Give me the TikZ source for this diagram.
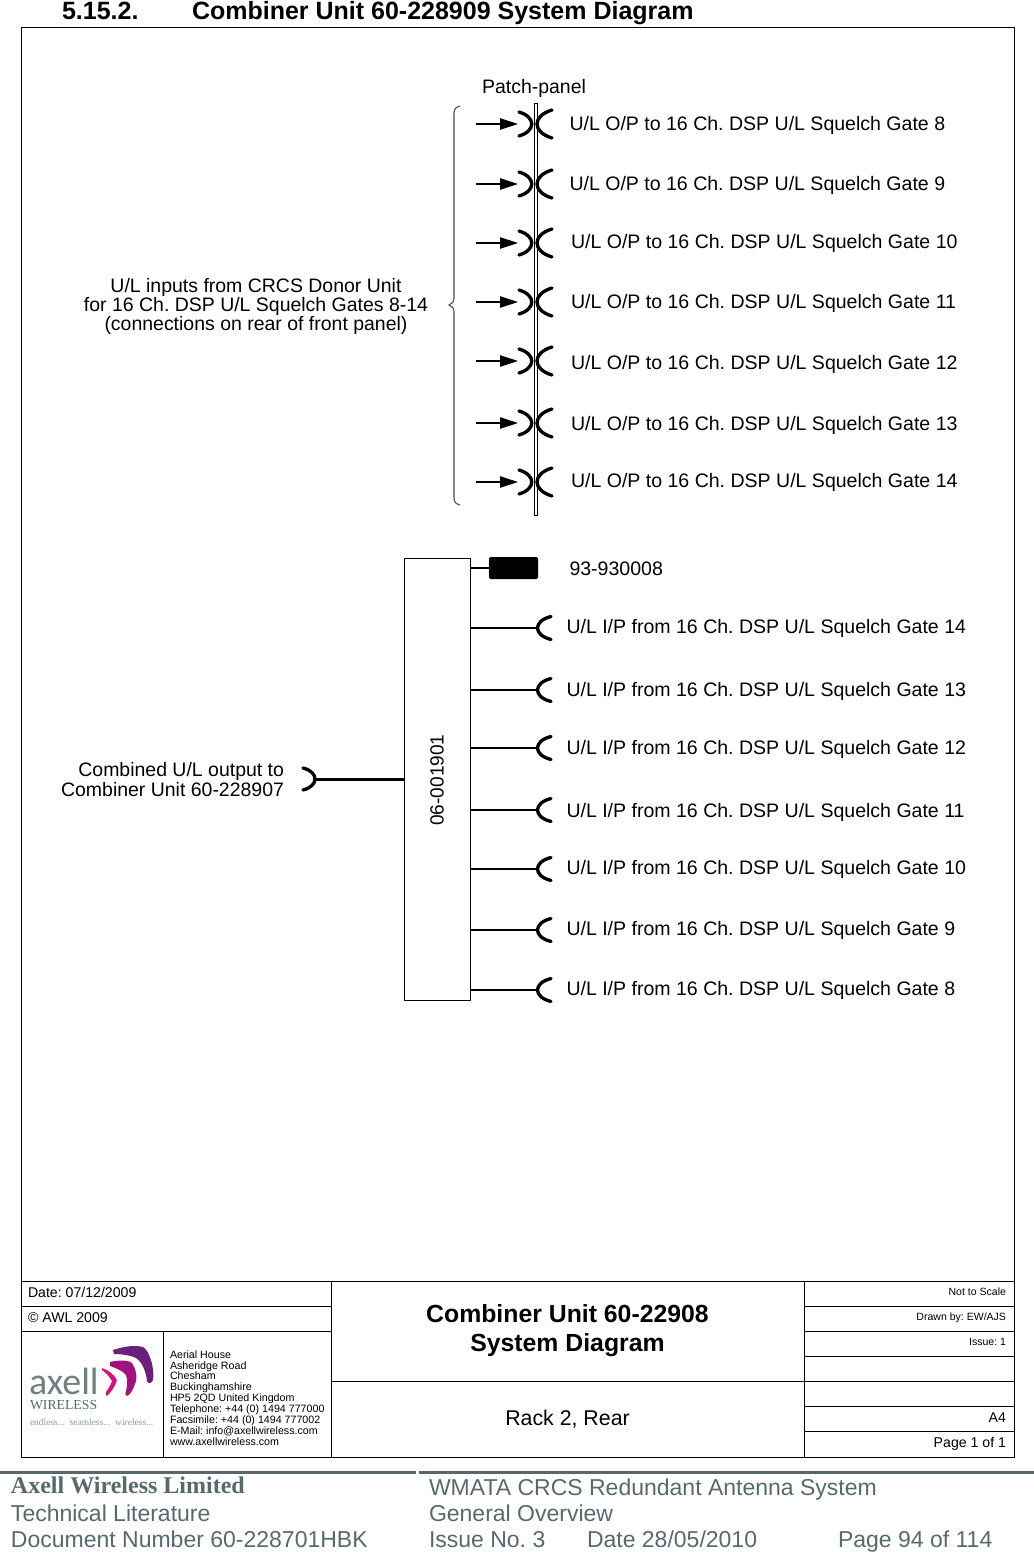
\documentclass[tikz,border=0pt]{standalone}
\usepackage{fontspec}
\setmainfont{Liberation Sans}
\newfontfamily\serifaxell{Liberation Serif}
\newfontfamily\logofont{Carlito}
\usetikzlibrary{arrows.meta, positioning, calc}
\definecolor{footgray}{HTML}{566A6B}
\definecolor{logoplum}{HTML}{6A1F7C}
\definecolor{logomag}{HTML}{A0127F}
\definecolor{logopink}{HTML}{D4127F}
\frenchspacing

\begin{document}
\begin{tikzpicture}[
    x=0.75pt, y=-0.75pt,
    every node/.style={inner sep=0pt, outer sep=0pt},
    label/.style={font=\fontsize{14.65}{15}\selectfont, anchor=west, yshift=-1.5pt},
    small/.style={font=\fontsize{10.6}{10.6}\selectfont},
    tiny/.style={font=\fontsize{7.9}{7.9}\selectfont},
    frameline/.style={draw, line width=0.65pt},
    wire/.style={line width=1.5pt},
    jack/.style={line width=2.5pt, line cap=round},
    footer/.style={font=\fontsize{17.25}{18}\selectfont, text=footgray, anchor=base west}
]
\useasboundingbox (0,0) rectangle (1034,1552);

%% Heading
\node[font=\bfseries\fontsize{18.75}{19}\selectfont, anchor=base west] (secno) at (62,20) {5.15.2.};
\node[font=\bfseries\fontsize{18.75}{19}\selectfont, anchor=base west] (sectitle) at (192,20) {Combiner Unit 60-228909 System Diagram};

%% Outer frame
\draw[frameline] (21,27) rectangle (1014,1457);

%% Patch panel
\draw[line width=0.7pt] (534,103) rectangle (537,515);
\node[font=\fontsize{14.6}{15}\selectfont, yshift=-1.5pt] (patch) at (534,86) {Patch-panel};

\foreach \y/\ty/\tx/\gate in {124/123/569.5/8, 184/183/569.5/9, 243/241/571/10, 302/301/571/11, 361/362/571/12, 423/423/571/13, 482/480/571/14} {
    \coordinate (in\gate) at (476,\y);
    \coordinate (plug\gate) at (518,\y);
    \draw[line width=0.9pt, -{Triangle[length=13.5pt, width=8.5pt]}] (in\gate) -- (plug\gate);
    \draw[jack] (519,\y-12) .. controls (536,\y-7) and (536,\y+7) .. (519,\y+12);
    \draw[jack] (552,\y-14) .. controls (532,\y-8) and (532,\y+8) .. (552,\y+14);
    \node[label] (out\gate) at (\tx,\ty) {U/L O/P to 16 Ch. DSP U/L Squelch Gate \gate};
}

%% Brace and inputs text
\draw[line width=0.8pt, black!70] (460,106) .. controls (456,107) and (454,109) .. (454,113) -- (454,298)
    .. controls (454,302) and (452,304) .. (449,305) .. controls (452,306) and (454,308) .. (454,312)
    -- (454,498) .. controls (454,502) and (456,504) .. (460,505);
\node[font=\fontsize{14.6}{14.3pt}\selectfont, align=center, yshift=-1.8pt] (inputs) at (256,304) {U/L inputs from CRCS Donor Unit\\for 16 Ch. DSP U/L Squelch Gates 8-14\\(connections on rear of front panel)};

%% Combiner box
\node[draw, line width=0.65pt, minimum width=49.5pt, minimum height=331.5pt] (comb) at (437,779) {};
\node[font=\fontsize{14.3}{15}\selectfont, rotate=90] (combid) at (437,780) {06-001901};

%% Load
\node[fill=black, minimum width=36.75pt, minimum height=16.5pt, rounded corners=1pt] (load) at (513.5,568) {};
\draw[wire] (comb.east |- load) -- (load);
\node[label] (loadid) at (569.5,567) {93-930008};

%% Inputs
\foreach \y/\ty/\tx/\gate in {628/626/566.5/14, 690/689/566.5/13, 748/747/566.5/12, 810/810/566.5/11, 869/867/566.5/10, 930/928/566.5/9, 990/988/566.5/8} {
    \coordinate (ip\gate) at (538,\y);
    \draw[wire] (comb.east |- ip\gate) -- (ip\gate);
    \draw[jack] (551,\y-11.5) .. controls (533,\y-7) and (533,\y+7) .. (551,\y+11.5);
    \node[label] (from\gate) at (\tx,\ty) {U/L I/P from 16 Ch. DSP U/L Squelch Gate \gate};
}

%% Combined output
\coordinate (outjack) at (315,779);
\draw[line width=2.25pt] (outjack) -- (comb.west |- outjack);
\draw[jack] (303,768) .. controls (319,772) and (319,786) .. (303,790);
\node[font=\fontsize{14.6}{14.3pt}\selectfont, align=right, anchor=east] (combout) at (284,779.5) {Combined U/L output to\\Combiner Unit 60-228907};

%% Title block
\draw[frameline] (21,1281) -- (1014,1281);
\draw[frameline] (331,1281) -- (331,1457);
\draw[frameline] (804,1281) -- (804,1457);
\draw[frameline] (21,1306) -- (331,1306);
\draw[frameline] (21,1331) -- (331,1331);
\draw[frameline] (163,1331) -- (163,1457);
\draw[frameline] (331,1381) -- (804,1381);
\foreach \y in {1306,1331,1356,1381,1406,1431}
    \draw[frameline] (804,\y) -- (1014,\y);

\node[small, anchor=base west] (date) at (28,1297) {Date: 07/12/2009};
\node[small, anchor=base west] (copy) at (28,1322) {© AWL 2009};
\node[font=\bfseries\fontsize{18.6}{21.5pt}\selectfont, align=center] (title) at (567.5,1330.5) {Combiner Unit 60-22908\\System Diagram};
\node[font=\fontsize{16}{16}\selectfont] (rack) at (567.5,1419) {Rack 2, Rear};
\node[tiny, anchor=base east] (scale) at (1006,1295.5) {Not to Scale};
\node[tiny, anchor=base east] (drawn) at (1006,1320.5) {Drawn by: EW/AJS};
\node[tiny, anchor=base east] (issue) at (1006,1345.5) {Issue: 1};
\node[small, anchor=base east] (sheet) at (1006,1422) {A4};
\node[small, anchor=base east] (page) at (1006,1447) {Page 1 of 1};
\node[font=\fontsize{8}{8.15pt}\selectfont, align=left, anchor=north west] (addr) at (170,1350.5) {Aerial House\\Asheridge Road\\Chesham\\Buckinghamshire\\HP5 2QD United Kingdom\\Telephone: +44 (0) 1494 777000\\Facsimile: +44 (0) 1494 777002\\E-Mail: info@axellwireless.com\\www.axellwireless.com};

%% Logo
\fill[logoplum] (113,1350) .. controls (125,1346) and (135,1345) .. (143,1347) .. controls (149,1350) and (155,1368) .. (153,1380)
    .. controls (151,1384) and (148,1384) .. (147,1381) .. controls (146,1370) and (141,1361) .. (136,1358) .. controls (130,1355) and (120,1354) .. (114,1354) -- cycle;
\fill[logomag] (110,1362) .. controls (118,1360) and (126,1360) .. (131,1362) .. controls (136,1368) and (138,1378) .. (135,1384)
    .. controls (133,1390) and (130,1395) .. (127,1396) .. controls (125,1396) and (125,1393) .. (126,1391) .. controls (128,1382) and (128,1375) .. (123,1372) .. controls (118,1369) and (113,1367) .. (110,1366) -- cycle;
\fill[logopink] (102,1368) .. controls (108,1370) and (114,1374) .. (117,1380) .. controls (115,1387) and (111,1392) .. (107,1396)
    .. controls (106,1396) and (105,1394) .. (106,1392) .. controls (109,1388) and (111,1384) .. (112,1381) .. controls (109,1376) and (105,1372) .. (102,1370) -- cycle;
\node[font=\logofont\fontsize{28.5}{29}\selectfont, text=footgray!85, anchor=base west] (axell) at (29,1394.5) {axell};
\node[font=\serifaxell\fontsize{10.3}{10}\selectfont, text=footgray, anchor=west] (wireless) at (30,1405.5) {WIRELESS};
\node[font=\serifaxell\fontsize{7.1}{7}\selectfont, text=footgray!70, anchor=west] (tagline) at (30,1422) {endless...\ \ seamless...\ \ wireless...};

%% Footer
\fill[footgray] (0,1470.5) rectangle (416,1473.5);
\fill[footgray] (418.5,1470.5) rectangle (1034,1473.5);
\node[font=\serifaxell\bfseries\fontsize{18}{18}\selectfont, text=footgray, anchor=base west] (company) at (11,1493) {Axell Wireless Limited};
\node[footer] (lit) at (11,1521) {Technical Literature};
\node[footer] (docno) at (11,1547.5) {Document Number 60-228701HBK};
\node[footer] (system) at (429,1495) {WMATA CRCS Redundant Antenna System};
\node[footer] (overview) at (429,1521) {General Overview};
\node[footer] (issueno) at (429,1547.5) {Issue No. 3};
\node[footer] (issuedate) at (587,1547.5) {Date 28/05/2010};
\node[footer] (pageno) at (838,1547.5) {Page 94 of 114};
\end{tikzpicture}
\end{document}
